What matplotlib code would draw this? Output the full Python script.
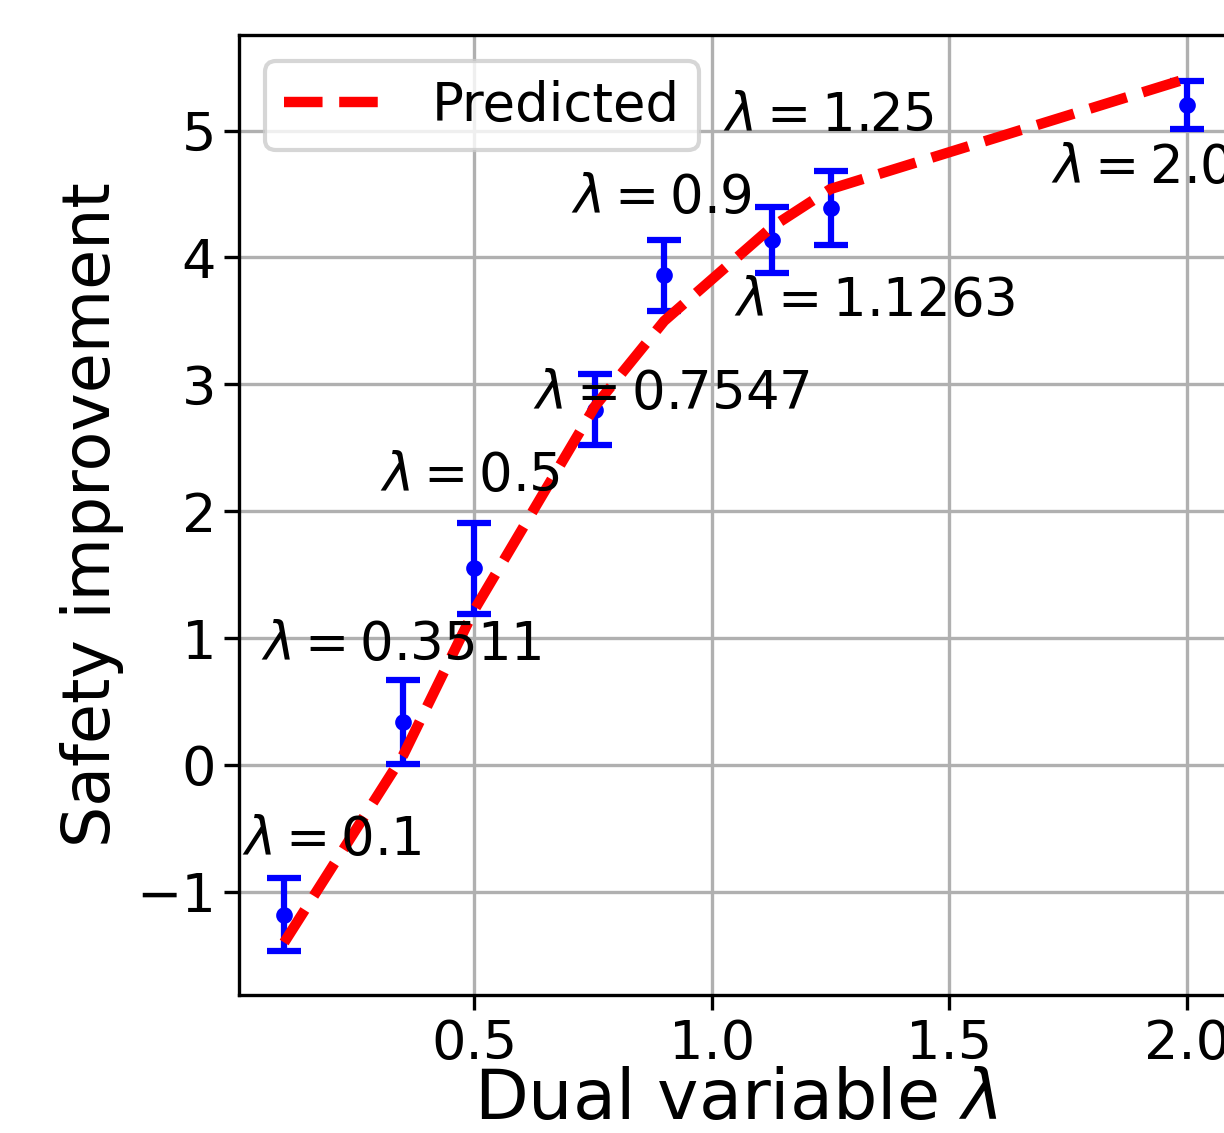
import matplotlib
matplotlib.use("Agg")
import matplotlib.pyplot as plt

# data
lambdas = [0.1, 0.3511, 0.5, 0.7547, 0.9, 1.1263, 1.25, 2.0]
labels = ["0.1", "0.3511", "0.5", "0.7547", "0.9", "1.1263", "1.25", "2.0"]
observed = [-1.18, 0.34, 1.55, 2.80, 3.86, 4.14, 4.39, 5.20]
obs_err = [0.29, 0.33, 0.36, 0.28, 0.28, 0.26, 0.29, 0.19]
predicted = [-1.40, 0.08, 1.22, 2.83, 3.50, 4.24, 4.54, 5.41]

# label placement (data coords)
label_x = [0.201, 0.346, 0.492, 0.915, 0.894, 1.344, 1.245, 1.904]
label_y = [-0.708, 0.825, 2.162, 2.807, 4.347, 3.538, 5.0, 4.591]

fig = plt.figure(figsize=(1224 / 300, 1133 / 300), dpi=300)
ax = fig.add_axes([239 / 1224, 1 - 995 / 1133, (1232 - 239) / 1224, (995 - 35) / 1133])

ax.errorbar(lambdas, observed, yerr=obs_err, fmt='o', color='blue', markersize=3,
            elinewidth=1.5, capsize=4, capthick=1.5, zorder=3)
ax.plot(lambdas, predicted, 'r--', linewidth=2.5, label='Predicted', zorder=4)

for lx, ly, t in zip(label_x, label_y, labels):
    ax.text(lx, ly, r'$\lambda = %s$' % t, fontsize=12.7, ha='center', va='baseline', zorder=5)

ax.tick_params(labelsize=13, pad=2)
ax.set_xlabel(r'Dual variable $\lambda$', fontsize=16.8, labelpad=-1)
ax.set_ylabel('Safety improvement', fontsize=15.6, labelpad=3)
ax.grid(True)
ax.legend(loc='upper left', fontsize=12.7, borderpad=0.35)

fig.savefig('out.png', dpi=300)
